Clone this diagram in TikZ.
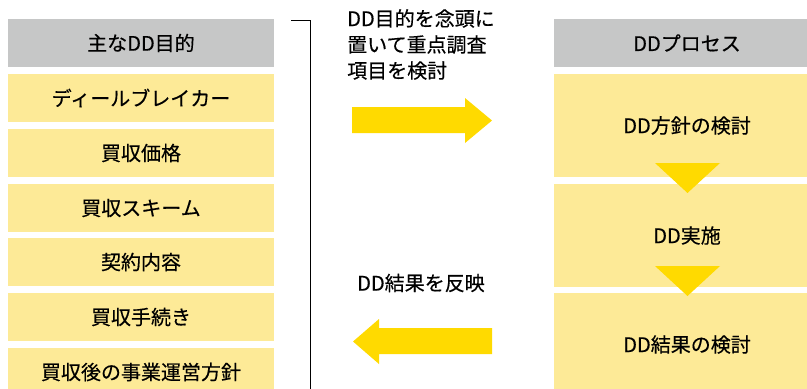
\documentclass[tikz,border=0pt]{standalone}
\usepackage{fontspec}
\setmainfont{Noto Sans CJK JP}[FakeBold=0.4]
\begin{document}
\begin{tikzpicture}[x=1bp,y=-1bp,
  hdr/.style={fill=hdrgray,draw=none,minimum width=266bp,minimum height=48bp,inner sep=0pt,font=\fontsize{20bp}{24bp}\selectfont},
  itembox/.style={fill=itemyellow,draw=none,minimum width=266bp,minimum height=48bp,inner sep=0pt,font=\fontsize{20bp}{24bp}\selectfont},
  procbox/.style={fill=itemyellow,draw=none,minimum width=266bp,minimum height=103bp,inner sep=0pt,font=\fontsize{20bp}{24bp}\selectfont},
  lbl/.style={font=\fontsize{20bp}{26bp}\selectfont,inner sep=0pt,align=left}
]
\definecolor{hdrgray}{HTML}{C6C7C7}
\definecolor{itemyellow}{HTML}{FDEA97}
\definecolor{arrowgold}{HTML}{FFDA00}
\useasboundingbox (0,0) rectangle (807,388);
\clip (0,0) rectangle (807,388);
% left column
\node[hdr] (lh) at (141,43) {主なDD目的};
\node[itembox] (l1) at (141,98) {ディールブレイカー};
\node[itembox] (l2) at (141,153) {買収価格};
\node[itembox] (l3) at (141,208) {買収スキーム};
\node[itembox] (l4) at (141,262) {契約内容};
\node[itembox] (l5) at (141,317) {買収手続き};
\node[itembox] (l6) at (141,372) {買収後の事業運営方針};
% bracket
\coordinate (b0) at (291,20);
\coordinate (b1) at (310,20);
\coordinate (b2) at (310,395);
\draw[line width=1bp] (b0) -- (b1) -- (b2);
% right column
\node[hdr] (rh) at (687,43) {DDプロセス};
\node[procbox] (r1) at (687,125.5) {DD方針の検討};
\node[procbox] (r2) at (687,235.5) {DD実施};
\node[procbox] (r3) at (687,344.5) {DD結果の検討};
% down triangles
\fill[arrowgold] (655,163) -- (720,163) -- (687.5,193) -- cycle;
\fill[arrowgold] (655,266) -- (720,266) -- (687.5,296) -- cycle;
% labels
\node[lbl,anchor=north west] (t1) at (347,9) {DD目的を念頭に\\置いて重点調査\\項目を検討};
\node[lbl,anchor=west] (t2) at (357,283) {DD結果を反映};
% right arrow
\fill[arrowgold] (352,107) -- (465,107) -- (465,98) -- (492,120.5) -- (465,143) -- (465,133) -- (352,133) -- cycle;
% left arrow
\fill[arrowgold] (492,328) -- (379,328) -- (379,319) -- (353,341.5) -- (379,364) -- (379,354) -- (492,354) -- cycle;
\end{tikzpicture}
\end{document}
